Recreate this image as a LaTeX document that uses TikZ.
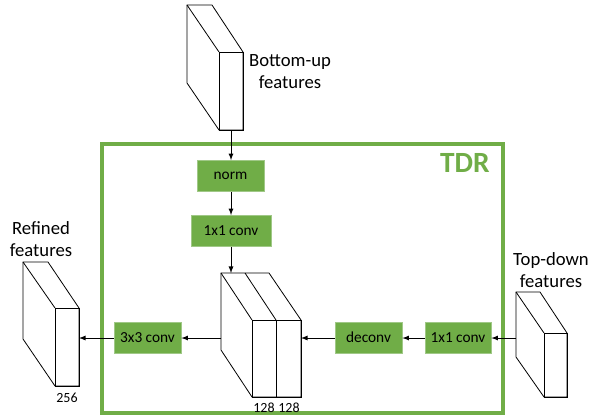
\documentclass[tikz,border=0pt]{standalone}
\usepackage{fontspec}
\setmainfont{Carlito}
\usepackage{tikz}
\usepackage{xcolor}

\definecolor{tdrgreen}{RGB}{112,173,71}
\definecolor{tdredge}{RGB}{160,200,135}

\begin{document}
\begin{tikzpicture}[x=0.75pt,y=0.75pt,yscale=-1,xscale=1,
  convbox/.style={draw=tdredge,line width=0.6pt,fill=tdrgreen,minimum width=67*0.75pt,minimum height=31*0.75pt,inner sep=0pt,font=\fontsize{11.5}{13}\selectfont},
  fmap/.style={draw=black,line width=0.6pt,fill=white},
  conn/.style={draw={rgb, 255:red, 0; green, 0; blue, 0 },line width=0.7pt,-latex},
  caption/.style={align=center,inner sep=0.75pt,font=\fontsize{14}{16.5}\selectfont}]
%set diagram left start at 0, and has height of 419
\path (0,0) rectangle (592,419);

%Shape: Rectangle [TDR frame]
\draw [color=tdrgreen,line width=2.4pt] (102,144) rectangle (503,413);
\node [anchor=east,inner sep=0pt,text=tdrgreen,font=\fontsize{22}{24}\selectfont\bfseries] (tdr) at (490,163) {TDR};

%Shape: Cuboid [bottom-up features]
\draw [fmap] (187,5) -- (212,5) -- (243,52) -- (243,130) -- (219,130) -- (187,83) -- cycle ;
\draw [line width=0.6pt] (219,52) rectangle (243,130) ;
\draw [line width=0.6pt] (187,5) -- (219,52) ;
\coordinate (bu) at (231,130);
\node [caption] (bulbl) at (290,72) {Bottom-up\\features};

%Shape: Cuboid [concatenated features]
\draw [fmap] (221,273) -- (269,273) -- (301,320) -- (301,397) -- (252,397) -- (221,350) -- cycle ;
\draw [line width=0.6pt] (252,320) rectangle (276,397) ;
\draw [line width=0.6pt] (276,320) rectangle (301,397) ;
\draw [line width=0.6pt] (221,273) -- (252,320) ;
\draw [line width=0.6pt] (245,273) -- (276,320) ;
\coordinate (cattop) at (231,273);
\coordinate (catleft) at (221,338);
\coordinate (catright) at (301,338);
\node [inner sep=0pt,font=\fontsize{10.5}{12}\selectfont] (c1) at (264,408) {128};
\node [inner sep=0pt,font=\fontsize{10.5}{12}\selectfont] (c2) at (289,408) {128};

%Shape: Cuboid [refined features]
\draw [fmap] (23,262) -- (48,262) -- (79,308) -- (79,386) -- (55,386) -- (23,339) -- cycle ;
\draw [line width=0.6pt] (55,308) rectangle (79,386) ;
\draw [line width=0.6pt] (23,262) -- (55,308) ;
\coordinate (rf) at (79,338);
\node [inner sep=0pt,font=\fontsize{10.5}{12}\selectfont] (c3) at (67,398) {256};
\node [caption] (rflbl) at (41,239) {Refined\\features};

%Shape: Cuboid [top-down features]
\draw [fmap] (516,292) -- (540,292) -- (567,333) -- (567,397) -- (544,397) -- (516,357) -- cycle ;
\draw [line width=0.6pt] (544,333) rectangle (567,397) ;
\draw [line width=0.6pt] (516,292) -- (544,333) ;
\coordinate (td) at (516,338);
\node [caption] (tdlbl) at (551,270) {Top-down\\features};

% Text Node [layers]
\node [convbox] (norm) at (230.5,176) {norm};
\node [convbox,minimum width=80*0.75pt] (convA) at (231,231) {1x1 conv};
\node [convbox] (convC) at (147.5,337.5) {3x3 conv};
\node [convbox] (deconv) at (368.5,337.5) {deconv};
\node [convbox,minimum width=66*0.75pt] (convB) at (458,337.5) {1x1 conv};

%Straight Lines [connectors]
\draw [conn] (bu) -- (norm.north -| bu) ;
\draw [conn] (norm.south -| bu) -- (convA.north -| bu) ;
\draw [conn] (convA.south -| cattop) -- (cattop) ;
\draw [conn] (catleft) -- (convC.east |- catleft) ;
\draw [conn] (convC.west |- rf) -- (rf) ;
\draw [conn] (td) -- (convB.east |- td) ;
\draw [conn] (convB.west |- td) -- (deconv.east |- td) ;
\draw [conn] (deconv.west |- catright) -- (catright) ;

\end{tikzpicture}
\end{document}
